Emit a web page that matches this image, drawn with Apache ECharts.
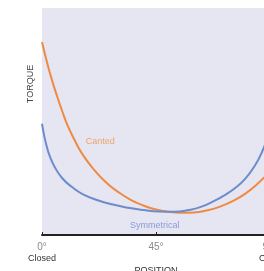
<!DOCTYPE html>
<html>
<head>
<meta charset="utf-8">
<script src="https://cdn.jsdelivr.net/npm/echarts@6/dist/echarts.min.js"></script>
<style>
  html, body { margin: 0; padding: 0; background: #fff; }
  #chart { width: 264px; height: 271px; }
</style>
</head>
<body>
<div id="chart"></div>
<script>
  // valve position in degrees, torque in relative units
  var cantedX = [0, 2, 4, 6, 8, 10, 13, 16, 20, 25, 30, 35, 40, 45, 50, 55, 60, 65, 70, 75, 80, 85, 90]
  var cantedY = [85, 76, 68, 61, 54.5, 48.5, 41.5, 35.5, 29.5, 23.5, 19, 15.5, 13, 11.2, 10.2, 9.8, 9.9, 10.8, 12.4, 14.8, 18, 22.5, 28]
  var symX = [0, 1, 2, 3, 5, 8, 12, 16, 22, 28, 34, 40, 46, 52, 58, 63, 68, 72, 76, 80, 84, 87, 90]
  var symY = [49, 43, 38.5, 35, 30, 25, 21, 18, 15.3, 13.4, 12, 11, 10.3, 10.2, 11, 12.5, 15, 17.5, 20.5, 24.5, 30.5, 37, 46]
  var tickLabels = { 0: ['0°', 'Closed'], 45: ['45°', ''], 90: ['90°', 'Open'] }
  var cantedLabel = { name: 'Canted', at: [23, 41] }
  var symLabel = { name: 'Symmetrical', at: [44.5, 4] }

  function pairs (xs, ys) {
    return xs.map(function (x, i) { return [x, ys[i]] })
  }

  function textMark (name, color, at) {
    return {
      symbol: 'rect',
      symbolSize: 1,
      itemStyle: { color: 'rgba(0,0,0,0)' },
      label: {
        show: true,
        position: 'inside',
        formatter: name,
        color: color,
        fontSize: 9,
        fontFamily: 'Liberation Sans'
      },
      data: [{ coord: at }]
    }
  }

  var chart = echarts.init(document.getElementById('chart'))

  var option = {
    animation: false,
    grid: {
      left: 42,
      top: 8,
      width: 228,
      bottom: 36,
      outerBoundsMode: 'none',
      containLabel: false,
      show: true,
      backgroundColor: '#e5e6f1',
      borderWidth: 0
    },
    graphic: [{
      type: 'text',
      x: 31,
      y: 84,
      rotation: Math.PI / 2,
      style: {
        text: 'TORQUE',
        font: '9px "Liberation Sans", Arial, sans-serif',
        fill: '#444',
        align: 'center',
        verticalAlign: 'middle'
      }
    }],
    xAxis: {
      type: 'value',
      min: 0,
      max: 90,
      interval: 45,
      name: 'POSITION',
      nameLocation: 'middle',
      nameGap: 31,
      nameMoveOverlap: false,
      nameTextStyle: {
        fontSize: 9,
        color: '#333',
        fontFamily: 'Liberation Sans'
      },
      axisLine: { lineStyle: { color: '#222', width: 2 } },
      axisTick: { inside: true, length: 3, lineStyle: { color: '#222' } },
      splitLine: { show: false },
      axisLabel: {
        margin: 6,
        formatter: function (v) {
          var t = tickLabels[v]
          return '{a|' + t[0] + '}\n{b|' + t[1] + '}'
        },
        rich: {
          a: { fontSize: 10, color: '#8a8a8a', lineHeight: 12, fontFamily: 'Liberation Sans' },
          b: { fontSize: 9, color: '#333', lineHeight: 11, fontFamily: 'Liberation Sans' }
        }
      }
    },
    yAxis: {
      type: 'value',
      min: 0,
      max: 100,
      axisLine: { show: false },
      axisTick: { show: false },
      axisLabel: { show: false },
      splitLine: { show: false }
    },
    series: [
      {
        name: 'Canted',
        type: 'line',
        smooth: 0.5,
        showSymbol: false,
        lineStyle: { color: '#ee8a42', width: 2 },
        data: pairs(cantedX, cantedY),
        markPoint: textMark(cantedLabel.name, '#f0a36a', cantedLabel.at)
      },
      {
        name: 'Symmetrical',
        type: 'line',
        smooth: 0.5,
        showSymbol: false,
        lineStyle: { color: '#6c8ccb', width: 2 },
        data: pairs(symX, symY),
        markPoint: textMark(symLabel.name, '#8c9ad6', symLabel.at)
      }
    ]
  }

  chart.setOption(option)
</script>
</body>
</html>
